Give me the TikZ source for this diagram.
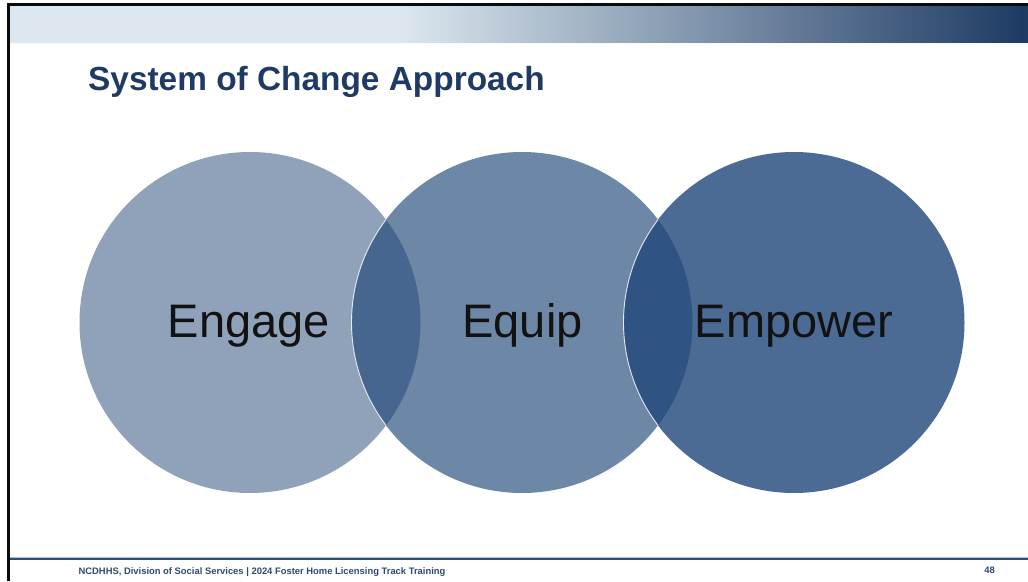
\documentclass[tikz,border=0pt]{standalone}
\usepackage{fontspec}
\setmainfont{Liberation Sans}
\usetikzlibrary{calc}
\definecolor{frameblack}{HTML}{0A0A0A}
\definecolor{bandlight}{HTML}{DCE7EF}
\definecolor{banddark}{HTML}{1C3A63}
\definecolor{titlenavy}{HTML}{1F3B64}
\definecolor{footnavy}{HTML}{2B4C7E}
\definecolor{foottext}{HTML}{2F4A70}
\definecolor{ringA}{HTML}{8FA2BA}
\definecolor{ringB}{HTML}{6D88A7}
\definecolor{ringC}{HTML}{4C6B94}
\definecolor{lensAB}{HTML}{46668F}
\definecolor{lensBC}{HTML}{2F5483}
\tikzset{
  ring/.style={fill=#1, draw=none},
  ringword/.style={font=\fontsize{47}{50}\selectfont, text=black!93, anchor=base, inner sep=0pt},
  rim/.style={draw=white, line width=0.9pt, opacity=0.85},
  footnote/.style={font=\bfseries\fontsize{9.4}{11}\selectfont, text=foottext, inner sep=0pt}
}
\begin{document}
\begin{tikzpicture}[x=1pt, y=-1pt]
  \useasboundingbox (0,0) rectangle (1028,581);
  \fill[white] (0,0) rectangle (1028,581);

  % header band: flat on the left, then a linear ramp to dark navy
  \fill[bandlight] (10,6) rectangle (400.5,43);
  \foreach \i in {0,...,124} {
    \pgfmathsetmacro{\xa}{400+\i*5.024}
    \pgfmathsetmacro{\xb}{\xa+5.6}
    \pgfmathsetmacro{\p}{(\i+0.5)/125*100}
    \fill[banddark!\p!bandlight] (\xa,6) rectangle (\xb,43);
  }
  \draw[white!80!bandlight, line width=1pt] (10,43.5) -- (1028,43.5);

  % slide frame
  \draw[frameblack, line width=3pt] (8.6,581) -- (8.6,4.6) -- (1028,4.6);

  % title
  \node[anchor=base west, inner sep=0pt, text=titlenavy,
        font=\bfseries\fontsize{33.4}{36}\selectfont] (title) at (88,90) {System of Change Approach};

  % the three circles
  \coordinate (cA) at (250,322.5);
  \coordinate (cB) at (522,322.5);
  \coordinate (cC) at (794,322.5);
  \def\rr{170.5}
  \fill[ring=ringA] (cA) circle (\rr);
  \fill[ring=ringB] (cB) circle (\rr);
  \fill[ring=ringC] (cC) circle (\rr);

  % overlaps
  \begin{scope}
    \clip (cA) circle (\rr);
    \fill[lensAB] (cB) circle (\rr);
    \draw[rim] (cB) circle (\rr);
  \end{scope}
  \begin{scope}
    \clip (cB) circle (\rr);
    \fill[lensBC] (cC) circle (\rr);
    \draw[rim] (cC) circle (\rr);
  \end{scope}

  % labels
  \node[ringword] (engage) at (249,337) {Engage};
  \node[ringword] (equip) at (522.5,337) {Equip};
  \node[ringword] (empower) at (794,337) {Empower};

  % footer
  \draw[footnavy!35, line width=3.2pt] (10,558.6) -- (1028,558.6);
  \draw[footnavy, line width=1.8pt] (10,558.6) -- (1028,558.6);
  \node[footnote] (credit) at (262,572) {NCDHHS, Division of Social Services | 2024 Foster Home Licensing Track Training};
  \node[footnote] (page) at (989.5,570.5) {48};
\end{tikzpicture}
\end{document}
